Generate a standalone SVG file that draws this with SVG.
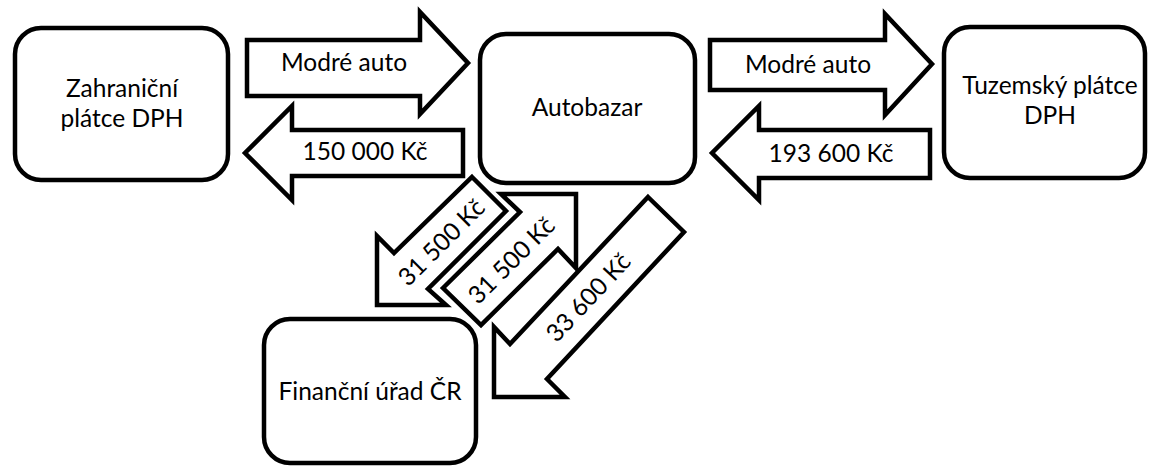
<svg xmlns="http://www.w3.org/2000/svg" width="1149" height="467" viewBox="0 0 1149 467">
<style>
.box{fill:#fff;stroke:#000;stroke-width:4.5}
.arr{fill:#fff;stroke:#000;stroke-width:4.5;stroke-linejoin:miter;stroke-miterlimit:10}
text{font-family:Lato,"Noto Sans",sans-serif;font-size:24.5px;fill:#000;text-anchor:middle}
</style>
<rect width="1149" height="467" fill="#fff"/>
<g id="node-zahranicni">
<rect class="box" x="15" y="28" width="213" height="152" rx="26"/>
<text x="122" y="97">Zahraniční</text>
<text x="122" y="127">plátce DPH</text>
</g>
<g id="node-autobazar">
<rect class="box" x="480" y="34" width="215" height="149" rx="26"/>
<text x="587" y="116">Autobazar</text>
</g>
<g id="node-tuzemsky">
<rect class="box" x="944" y="27" width="201" height="151" rx="26"/>
<text x="1050" y="94">Tuzemský plátce</text>
<text x="1050" y="124">DPH</text>
</g>
<g id="node-financni">
<rect class="box" x="264" y="319" width="212" height="144" rx="26"/>
<text x="370" y="400">Finanční úřad ČR</text>
</g>
<g id="connectors">
<g id="arrow-auto-1">
<path class="arr" d="M247,40 H420 V12 L468,63 L420,114 V96 H247 Z"/>
<text x="344" y="71">Modré auto</text>
</g>
<g id="arrow-150000">
<path class="arr" d="M463,130 H292 V106 L245,153 L292,200 V176 H463 Z"/>
<text x="365" y="160">150 000 Kč</text>
</g>
<g id="arrow-auto-2">
<path class="arr" d="M710,40 H885 V14 L932,64 L885,115 V90 H710 Z"/>
<text x="808" y="73">Modré auto</text>
</g>
<g id="arrow-193600">
<path class="arr" d="M930,130 H759 V106 L712,153 L759,200 V178 H930 Z"/>
<text x="831" y="162">193 600 Kč</text>
</g>
<g id="arrow-31500-a">
<path class="arr" d="M472,177 L506,211 L428,289 L446,305 L377,305 L377,236 L394,253 Z"/>
<text transform="translate(441,242) rotate(-45)" x="0" y="9">31 500 Kč</text>
</g>
<g id="arrow-31500-b">
<path class="arr" d="M443,288 L520,212 L501,194 L576,194 L576,268 L558,249 L481,325 Z"/>
<text transform="translate(511,260) rotate(-45)" x="0" y="9">31 500 Kč</text>
</g>
<g id="arrow-33600">
<path class="arr" d="M648,197 L684,232 L547,379 L565,397 L494,397 L494,327 L510,344 Z"/>
<text transform="translate(588,297) rotate(-47)" x="0" y="9">33 600 Kč</text>
</g>
</g>
</svg>
